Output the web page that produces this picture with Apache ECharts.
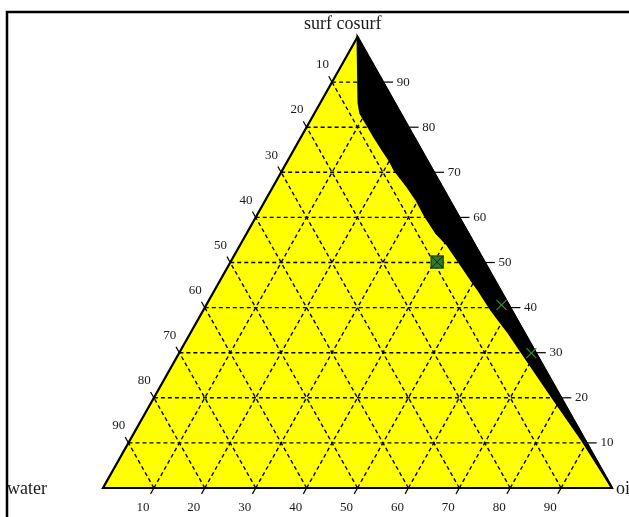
<!DOCTYPE html>
<html>
<head>
<meta charset="utf-8">
<script src="https://cdn.jsdelivr.net/npm/echarts@6/dist/echarts.min.js"></script>
<style>
  html, body { margin: 0; padding: 0; background: #fff; }
  #main { width: 629px; height: 517px; }
</style>
</head>
<body>
<div id="main"></div>
<script>
// ternary points are [water, oil, surf cosurf] in %
const tickValues = [10, 20, 30, 40, 50, 60, 70, 80, 90]
const tickLabels = ['10', '20', '30', '40', '50', '60', '70', '80', '90']
const vertexNames = ['water', 'oil', 'surf cosurf']
const triangle = [[100, 0, 0], [0, 100, 0], [0, 0, 100]]
// left edge of the black (multiphase) region, from the surf corner down to the oil corner
const phaseBoundary = [
  [0, 0, 100], [7.1, 7.5, 85.4], [7.9, 9.0, 83.1], [7.8, 14.5, 77.7], [7.6, 17.5, 74.9],
  [7.4, 19.9, 72.7], [7.5, 22.0, 70.5], [6.8, 26.5, 66.7], [6.5, 29.6, 63.9],
  [6.6, 33.0, 60.4], [6.3, 37.2, 56.5], [5.4, 40.7, 53.9], [4.9, 46.1, 49.0],
  [4.6, 49.3, 46.1], [4.3, 52.0, 43.7], [4.0, 56.5, 39.5], [3.2, 62.0, 34.8],
  [2.7, 67.4, 29.9], [1.7, 78.1, 20.2], [0.6, 88.8, 10.6], [0, 100, 0]
]
const squarePoints = [[9.3, 40.6, 50.1]]
const crossPoints = [[1.4, 58.0, 40.6], [0.9, 69.2, 29.9]]

const toXY = p => [p[1] + p[2] / 2, p[2]]
const serif = '"Liberation Serif", "DejaVu Serif", serif'

const gridSegments = []
tickValues.forEach(k => {
  gridSegments.push([[100 - k, 0, k], [0, 100 - k, k]]) // constant surf
  gridSegments.push([[100 - k, k, 0], [0, k, 100 - k]]) // constant oil
  gridSegments.push([[k, 100 - k, 0], [k, 0, 100 - k]]) // constant water
})

// tick start point and outward direction (in ternary units) for each edge
const tickAxes = [
  { at: k => [k, 0, 100 - k], dir: [0, -1, 1], len: 1.3, lab: 3.8 }, // water, left edge
  { at: k => [100 - k, k, 0], dir: [1, 0, -1], len: 1.3, lab: 4.3 }, // oil, bottom edge
  { at: k => [0, 100 - k, k], dir: [-1, 1, 0], len: 2.0, lab: 4.0 } // surf, right edge
]
const tickData = []
tickAxes.forEach((a, ai) => tickValues.forEach((k, i) => tickData.push([ai, i])))

const chart = echarts.init(document.getElementById('main'))
chart.setOption({
  animation: false,
  grid: { left: 103, right: 17, top: 37, bottom: 29 },
  xAxis: { type: 'value', min: 0, max: 100, show: false },
  yAxis: { type: 'value', min: 0, max: 100, show: false },
  graphic: [
    { type: 'polyline', shape: { points: [[7, 517], [7, 12], [629, 12]] }, style: { stroke: '#000', lineWidth: 2.5, fill: null } },
    { type: 'text', left: 304, top: 15, style: { text: vertexNames[2], font: '18px ' + serif, fill: '#1a1a1a' } },
    { type: 'text', left: 7, top: 480, style: { text: vertexNames[0], font: '18px ' + serif, fill: '#1a1a1a' } },
    { type: 'text', left: 616, top: 480, style: { text: vertexNames[1], font: '18px ' + serif, fill: '#1a1a1a' } }
  ],
  series: [
    {
      type: 'custom',
      data: [[0, 0]],
      renderItem: (params, api) => ({
        type: 'polygon',
        shape: { points: triangle.map(p => api.coord(toXY(p))) },
        style: { fill: '#ffff00', stroke: null }
      })
    },
    {
      type: 'custom',
      data: gridSegments.map(s => toXY(s[0]).concat(toXY(s[1]))),
      renderItem: (params, api) => {
        const a = api.coord([api.value(0), api.value(1)])
        const b = api.coord([api.value(2), api.value(3)])
        return {
          type: 'line',
          shape: { x1: a[0], y1: a[1], x2: b[0], y2: b[1] },
          style: { stroke: '#000', lineWidth: 1.4, lineDash: [4, 3] }
        }
      }
    },
    {
      type: 'custom',
      data: [[0, 0]],
      renderItem: (params, api) => ({
        type: 'polygon',
        shape: { points: phaseBoundary.map(p => api.coord(toXY(p))) },
        style: { fill: '#000', stroke: '#000', lineWidth: 2 }
      })
    },
    {
      type: 'custom',
      data: [[0, 0]],
      renderItem: (params, api) => ({
        type: 'polygon',
        shape: { points: triangle.map(p => api.coord(toXY(p))) },
        style: { fill: null, stroke: '#000', lineWidth: 2.2 }
      })
    },
    {
      type: 'custom',
      data: squarePoints.map(toXY),
      renderItem: (params, api) => {
        const c = api.coord([api.value(0), api.value(1)])
        const h = 6
        return {
          type: 'group',
          children: [
            { type: 'rect', shape: { x: c[0] - h, y: c[1] - h, width: 2 * h, height: 2 * h }, style: { fill: '#2f7a2f', stroke: '#1d4f1d', lineWidth: 1.5 } },
            { type: 'line', shape: { x1: c[0] - h, y1: c[1] - h, x2: c[0] + h, y2: c[1] + h }, style: { stroke: '#0a2a0a', lineWidth: 1 } },
            { type: 'line', shape: { x1: c[0] + h, y1: c[1] - h, x2: c[0] - h, y2: c[1] + h }, style: { stroke: '#0a2a0a', lineWidth: 1 } }
          ]
        }
      }
    },
    {
      type: 'custom',
      data: crossPoints.map(toXY),
      renderItem: (params, api) => {
        const c = api.coord([api.value(0), api.value(1)])
        const h = 5
        return {
          type: 'group',
          children: [
            { type: 'line', shape: { x1: c[0] - h, y1: c[1] - h, x2: c[0] + h, y2: c[1] + h }, style: { stroke: '#2e8b2e', lineWidth: 1.3 } },
            { type: 'line', shape: { x1: c[0] + h, y1: c[1] - h, x2: c[0] - h, y2: c[1] + h }, style: { stroke: '#2e8b2e', lineWidth: 1.3 } }
          ]
        }
      }
    },
    {
      type: 'custom',
      data: tickData,
      renderItem: (params, api) => {
        const a = tickAxes[api.value(0)]
        const i = api.value(1)
        const p = a.at(tickValues[i])
        const shift = d => p.map((v, j) => v + a.dir[j] * d)
        const s = api.coord(toXY(p))
        const e = api.coord(toXY(shift(a.len)))
        const l = api.coord(toXY(shift(a.lab)))
        return {
          type: 'group',
          children: [
            { type: 'line', shape: { x1: s[0], y1: s[1], x2: e[0], y2: e[1] }, style: { stroke: '#000', lineWidth: 1.2 } },
            { type: 'text', style: { text: tickLabels[i], x: l[0], y: l[1], align: 'center', verticalAlign: 'middle', font: '13px ' + serif, fill: '#1a1a1a' } }
          ]
        }
      }
    }
  ]
})
</script>
</body>
</html>
